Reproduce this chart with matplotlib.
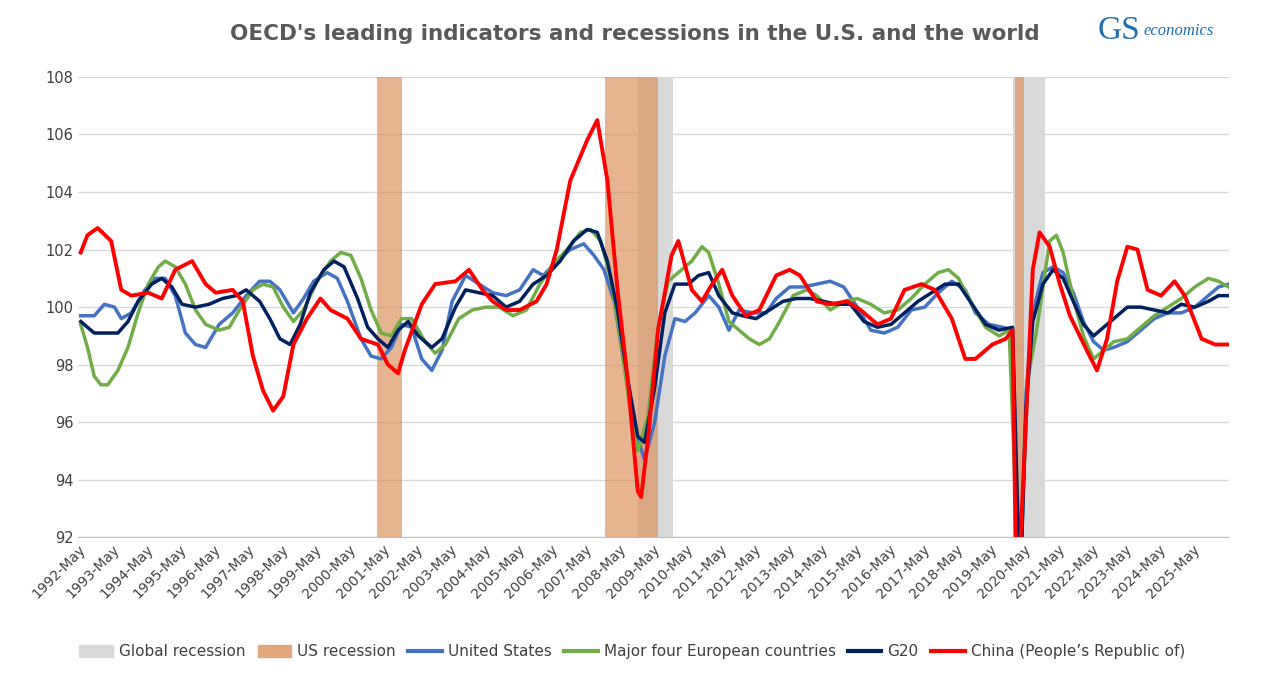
import matplotlib
matplotlib.use('Agg')
import matplotlib.pyplot as plt
from matplotlib.patches import Patch
from matplotlib.lines import Line2D

china_t = [1992.4,1992.6,1992.9,1993.3,1993.6,1993.9,1994.4,1994.8,1995.2,1995.7,1996.1,1996.4,1996.9,1997.2,1997.5,1997.8,1998.1,1998.4,1998.7,1999.1,1999.5,1999.8,2000.3,2000.7,2001.2,2001.5,2001.8,2002.0,2002.5,2002.9,2003.5,2003.9,2004.3,2004.6,2005.0,2005.4,2005.9,2006.2,2006.5,2006.9,2007.4,2007.7,2008.0,2008.3,2008.6,2008.9,2009.0,2009.2,2009.5,2009.9,2010.1,2010.5,2010.8,2011.1,2011.4,2011.7,2012.1,2012.5,2013.0,2013.4,2013.7,2014.2,2014.6,2015.1,2015.5,2016.0,2016.4,2016.8,2017.3,2017.7,2018.2,2018.6,2018.9,2019.4,2019.8,2020.0,2020.1,2020.2,2020.4,2020.6,2020.8,2021.1,2021.4,2021.7,2022.2,2022.5,2022.8,2023.1,2023.4,2023.7,2024.0,2024.4,2024.8,2025.1,2025.6,2026.0,2026.4]
china_v = [101.9,102.5,102.75,102.3,100.6,100.4,100.5,100.3,101.3,101.6,100.8,100.5,100.6,100.2,98.3,97.1,96.4,96.9,98.7,99.6,100.3,99.9,99.6,98.9,98.7,98.0,97.7,98.5,100.1,100.8,100.9,101.3,100.6,100.2,99.9,99.9,100.2,100.8,102.0,104.4,105.8,106.5,104.4,100.6,97.5,93.6,93.4,95.4,99.2,101.8,102.3,100.6,100.2,100.8,101.3,100.4,99.7,99.9,101.1,101.3,101.1,100.2,100.1,100.2,99.9,99.4,99.6,100.6,100.8,100.6,99.6,98.2,98.2,98.7,98.9,99.2,91.0,91.0,96.1,101.3,102.6,102.1,100.8,99.7,98.5,97.8,98.9,100.9,102.1,102.0,100.6,100.4,100.9,100.4,98.9,98.7,98.7]

us_t = [1992.4,1992.8,1993.1,1993.4,1993.6,1993.9,1994.3,1994.6,1994.9,1995.2,1995.5,1995.8,1996.1,1996.5,1996.9,1997.3,1997.7,1998.0,1998.3,1998.7,1999.0,1999.3,1999.7,2000.0,2000.3,2000.7,2001.0,2001.3,2001.6,2001.9,2002.2,2002.5,2002.8,2003.1,2003.4,2003.8,2004.2,2004.6,2005.0,2005.4,2005.8,2006.1,2006.5,2006.9,2007.3,2007.6,2007.9,2008.2,2008.5,2008.8,2009.1,2009.4,2009.7,2010.0,2010.3,2010.6,2011.0,2011.3,2011.6,2011.9,2012.3,2012.7,2013.0,2013.4,2013.8,2014.2,2014.6,2015.0,2015.4,2015.8,2016.2,2016.6,2017.0,2017.4,2017.8,2018.2,2018.6,2018.9,2019.3,2019.7,2020.0,2020.15,2020.25,2020.4,2020.6,2020.9,2021.2,2021.5,2021.8,2022.1,2022.4,2022.7,2023.0,2023.4,2023.8,2024.2,2024.6,2025.0,2025.4,2025.8,2026.1,2026.4]
us_v = [99.7,99.7,100.1,100.0,99.6,99.8,100.6,101.0,101.0,100.4,99.1,98.7,98.6,99.4,99.8,100.4,100.9,100.9,100.6,99.8,100.3,100.9,101.2,101.0,100.2,98.9,98.3,98.2,98.6,99.4,99.3,98.2,97.8,98.5,100.2,101.1,100.8,100.5,100.4,100.6,101.3,101.1,101.6,102.0,102.2,101.8,101.3,100.2,98.0,95.8,94.7,96.0,98.3,99.6,99.5,99.8,100.4,100.0,99.2,99.9,99.8,99.8,100.3,100.7,100.7,100.8,100.9,100.7,100.0,99.2,99.1,99.3,99.9,100.0,100.5,100.9,100.6,99.8,99.4,99.3,99.2,92.0,91.0,97.0,99.8,101.2,101.4,101.2,100.5,99.5,98.8,98.5,98.6,98.8,99.2,99.6,99.8,99.8,100.0,100.4,100.7,100.8]

eu_t = [1992.4,1992.6,1992.8,1993.0,1993.2,1993.5,1993.8,1994.1,1994.4,1994.7,1994.9,1995.2,1995.5,1995.8,1996.1,1996.5,1996.8,1997.1,1997.5,1997.8,1998.1,1998.4,1998.7,1999.0,1999.4,1999.8,2000.1,2000.4,2000.7,2001.0,2001.3,2001.6,2001.9,2002.2,2002.6,2002.9,2003.2,2003.6,2004.0,2004.4,2004.8,2005.2,2005.6,2006.0,2006.4,2006.8,2007.2,2007.5,2007.8,2008.1,2008.4,2008.7,2008.9,2009.2,2009.5,2009.8,2010.1,2010.5,2010.8,2011.0,2011.3,2011.6,2011.9,2012.2,2012.5,2012.8,2013.1,2013.5,2013.9,2014.2,2014.6,2015.0,2015.4,2015.8,2016.2,2016.6,2017.0,2017.4,2017.8,2018.1,2018.4,2018.8,2019.2,2019.6,2019.9,2020.1,2020.25,2020.45,2020.7,2020.9,2021.1,2021.3,2021.5,2021.8,2022.1,2022.4,2022.7,2023.0,2023.4,2023.8,2024.2,2024.6,2025.0,2025.4,2025.8,2026.1,2026.4]
eu_v = [99.4,98.6,97.6,97.3,97.3,97.8,98.6,99.8,100.8,101.4,101.6,101.4,100.8,99.9,99.4,99.2,99.3,99.9,100.6,100.8,100.7,100.0,99.5,99.9,100.9,101.6,101.9,101.8,101.0,99.9,99.1,99.0,99.6,99.6,98.8,98.4,98.7,99.6,99.9,100.0,100.0,99.7,99.9,100.8,101.5,102.0,102.6,102.7,102.3,101.0,98.8,96.2,95.0,96.2,99.3,100.9,101.2,101.6,102.1,101.9,100.8,99.5,99.2,98.9,98.7,98.9,99.5,100.4,100.6,100.4,99.9,100.2,100.3,100.1,99.8,99.9,100.3,100.8,101.2,101.3,101.0,100.1,99.3,99.0,99.2,93.0,91.5,97.5,99.1,100.7,102.3,102.5,101.9,100.3,99.0,98.2,98.5,98.8,98.9,99.3,99.7,100.0,100.3,100.7,101.0,100.9,100.7]

g20_t = [1992.4,1992.8,1993.2,1993.5,1993.8,1994.1,1994.5,1994.8,1995.1,1995.4,1995.8,1996.2,1996.6,1997.0,1997.3,1997.7,1998.0,1998.3,1998.6,1998.9,1999.2,1999.6,1999.9,2000.2,2000.6,2000.9,2001.2,2001.5,2001.8,2002.1,2002.4,2002.8,2003.1,2003.5,2003.8,2004.2,2004.6,2005.0,2005.4,2005.8,2006.2,2006.6,2007.0,2007.4,2007.7,2008.0,2008.3,2008.6,2008.9,2009.1,2009.4,2009.7,2010.0,2010.4,2010.7,2011.0,2011.3,2011.7,2012.0,2012.4,2012.8,2013.2,2013.6,2014.0,2014.4,2014.8,2015.2,2015.6,2016.0,2016.4,2016.8,2017.2,2017.6,2018.0,2018.4,2018.8,2019.2,2019.6,2020.0,2020.15,2020.25,2020.4,2020.6,2020.9,2021.2,2021.5,2021.8,2022.1,2022.4,2022.7,2023.0,2023.4,2023.8,2024.2,2024.6,2025.0,2025.4,2025.8,2026.1,2026.4]
g20_v = [99.5,99.1,99.1,99.1,99.5,100.2,100.8,101.0,100.7,100.1,100.0,100.1,100.3,100.4,100.6,100.2,99.6,98.9,98.7,99.4,100.5,101.3,101.6,101.4,100.3,99.3,98.9,98.6,99.2,99.5,99.0,98.6,98.9,100.0,100.6,100.5,100.4,100.0,100.2,100.8,101.1,101.6,102.3,102.7,102.6,101.6,99.9,97.5,95.5,95.3,97.2,99.8,100.8,100.8,101.1,101.2,100.4,99.8,99.7,99.6,99.9,100.2,100.3,100.3,100.2,100.1,100.1,99.5,99.3,99.4,99.8,100.2,100.5,100.8,100.8,100.1,99.4,99.2,99.3,93.0,91.0,96.5,99.5,100.8,101.3,101.0,100.2,99.4,99.0,99.3,99.6,100.0,100.0,99.9,99.8,100.1,100.0,100.2,100.4,100.4]

us_rec = [(2001.17, 2001.92), (2007.92, 2009.5), (2020.08, 2020.33)]
global_rec = [(2008.92, 2009.95), (2020.0, 2020.95)]

years = list(range(1992, 2026))
tick_labels = [f'{y}-May' for y in years]

fig = plt.figure(figsize=(12.64, 6.81), dpi=100)
ax = fig.add_axes([0.062, 0.211, 0.91, 0.676])

for a, b in global_rec:
    ax.axvspan(a, b, color='#d9d9d9', lw=0, zorder=1)
for a, b in us_rec:
    ax.axvspan(a, b, color='#d98c55', alpha=0.65, lw=0, zorder=2)

ax.plot(us_t, us_v, color='#4472c4', lw=2.5, zorder=3)
ax.plot(eu_t, eu_v, color='#70ad47', lw=2.5, zorder=4)
ax.plot(g20_t, g20_v, color='#002060', lw=2.5, zorder=5)
ax.plot(china_t, china_v, color='#ff0000', lw=2.8, zorder=6)

ax.set_xlim(1992.33, 2026.4)
ax.set_ylim(92, 108)
ax.set_yticks(range(92, 109, 2))
ax.set_xticks([y + 4/12 for y in years])
ax.set_xticklabels(tick_labels, rotation=45, ha='right', rotation_mode='anchor', fontsize=10, color='#404040')
ax.tick_params(axis='y', labelsize=10.5, colors='#404040', length=0)
ax.tick_params(axis='x', length=0)
ax.grid(axis='y', color='#d9d9d9', lw=1)
ax.set_axisbelow(True)
for s in ['top', 'right', 'left']:
    ax.spines[s].set_visible(False)
ax.spines['bottom'].set_color('#bfbfbf')

fig.text(0.502, 0.95, "OECD's leading indicators and recessions in the U.S. and the world",
         ha='center', va='center', fontsize=15.5, fontweight='bold', color='#595959')
fig.text(0.885, 0.955, 'GS', fontsize=24, color='#1f6fb0', ha='center', va='center', family='Liberation Serif')
fig.text(0.905, 0.955, 'economics', fontsize=12, color='#1f6fb0', ha='left', va='center', style='italic', family='Liberation Serif')

handles = [Patch(color='#d9d9d9'), Patch(color='#e3a77c'),
           Line2D([], [], color='#4472c4', lw=3), Line2D([], [], color='#70ad47', lw=3),
           Line2D([], [], color='#002060', lw=3), Line2D([], [], color='#ff0000', lw=3)]
labels = ['Global recession', 'US recession', 'United States', 'Major four European countries',
          'G20', 'China (People\u2019s Republic of)']
leg = fig.legend(handles, labels, loc='center', bbox_to_anchor=(0.5, 0.043), ncol=6, frameon=False,
                 fontsize=11, handlelength=2.2, handleheight=0.8, columnspacing=0.8, handletextpad=0.4)
for t in leg.get_texts():
    t.set_color('#404040')

fig.savefig('out.png', dpi=100)
